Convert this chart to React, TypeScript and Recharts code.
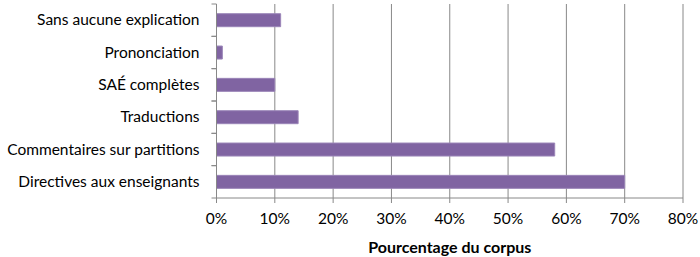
import React from 'react';
import { BarChart, Bar, XAxis, YAxis, CartesianGrid } from 'recharts';

const categories = [
  'Sans aucune explication',
  'Prononciation',
  'SAÉ complètes',
  'Traductions',
  'Commentaires sur partitions',
  'Directives aux enseignants',
];
const percentages = [11, 1, 10, 14, 58, 70];
const xTicks = [0, 10, 20, 30, 40, 50, 60, 70, 80];

const data = categories.map((name, i) => ({ name, value: percentages[i] }));

const FONT = 'Lato, "Open Sans", sans-serif';
const GRID = '#888888';
const TEXT = '#000000';
const PLOT_TOP = 4;
const PLOT_BOTTOM = 198;
const BAND = (PLOT_BOTTOM - PLOT_TOP) / categories.length;

// Excel style: tick marks sit between categories, not on them
const CategoryTick = (props: any) => {
  const { x, y, payload } = props;
  const axisX = x + 8;
  return (
    <g>
      <line x1={axisX - 5} x2={axisX} y1={y - BAND / 2} y2={y - BAND / 2} stroke={GRID} />
      <line x1={axisX - 5} x2={axisX} y1={y + BAND / 2} y2={y + BAND / 2} stroke={GRID} />
      <text x={x - 9} y={y} dy={5} textAnchor="end" fill={TEXT} fontSize={15.5} fontFamily={FONT}>
        {payload.value}
      </text>
    </g>
  );
};

const App: React.FC = () => {
  return (
    <div style={{ position: 'absolute', left: 0, top: 0, width: 700, height: 257, background: '#fff' }}>
      <BarChart
        width={700}
        height={257}
        data={data}
        layout="vertical"
        margin={{ top: PLOT_TOP, right: 17, left: 0, bottom: 0 }}
        barCategoryGap="30%"
      >
        <CartesianGrid vertical horizontal={false} stroke={GRID} />
        <XAxis
          type="number"
          domain={[0, 80]}
          ticks={xTicks}
          tickFormatter={(v: number) => `${v}%`}
          interval={0}
          stroke={GRID}
          tickSize={5}
          height={59}
          tick={{ fill: TEXT, fontSize: 15.5, fontFamily: FONT, dy: 8 }}
          label={{
            value: 'Pourcentage du corpus',
            position: 'insideBottom',
            offset: 4,
            fill: TEXT,
            fontSize: 16,
            fontWeight: 'bold',
            fontFamily: FONT,
          }}
        />
        <YAxis
          type="category"
          dataKey="name"
          width={216.5}
          stroke={GRID}
          tickLine={false}
          tick={<CategoryTick />}
          interval={0}
        />
        <Bar dataKey="value" fill="#8064A2" stroke="#9B85B8" strokeWidth={1} isAnimationActive={false} />
      </BarChart>
    </div>
  );
};

export default App;
